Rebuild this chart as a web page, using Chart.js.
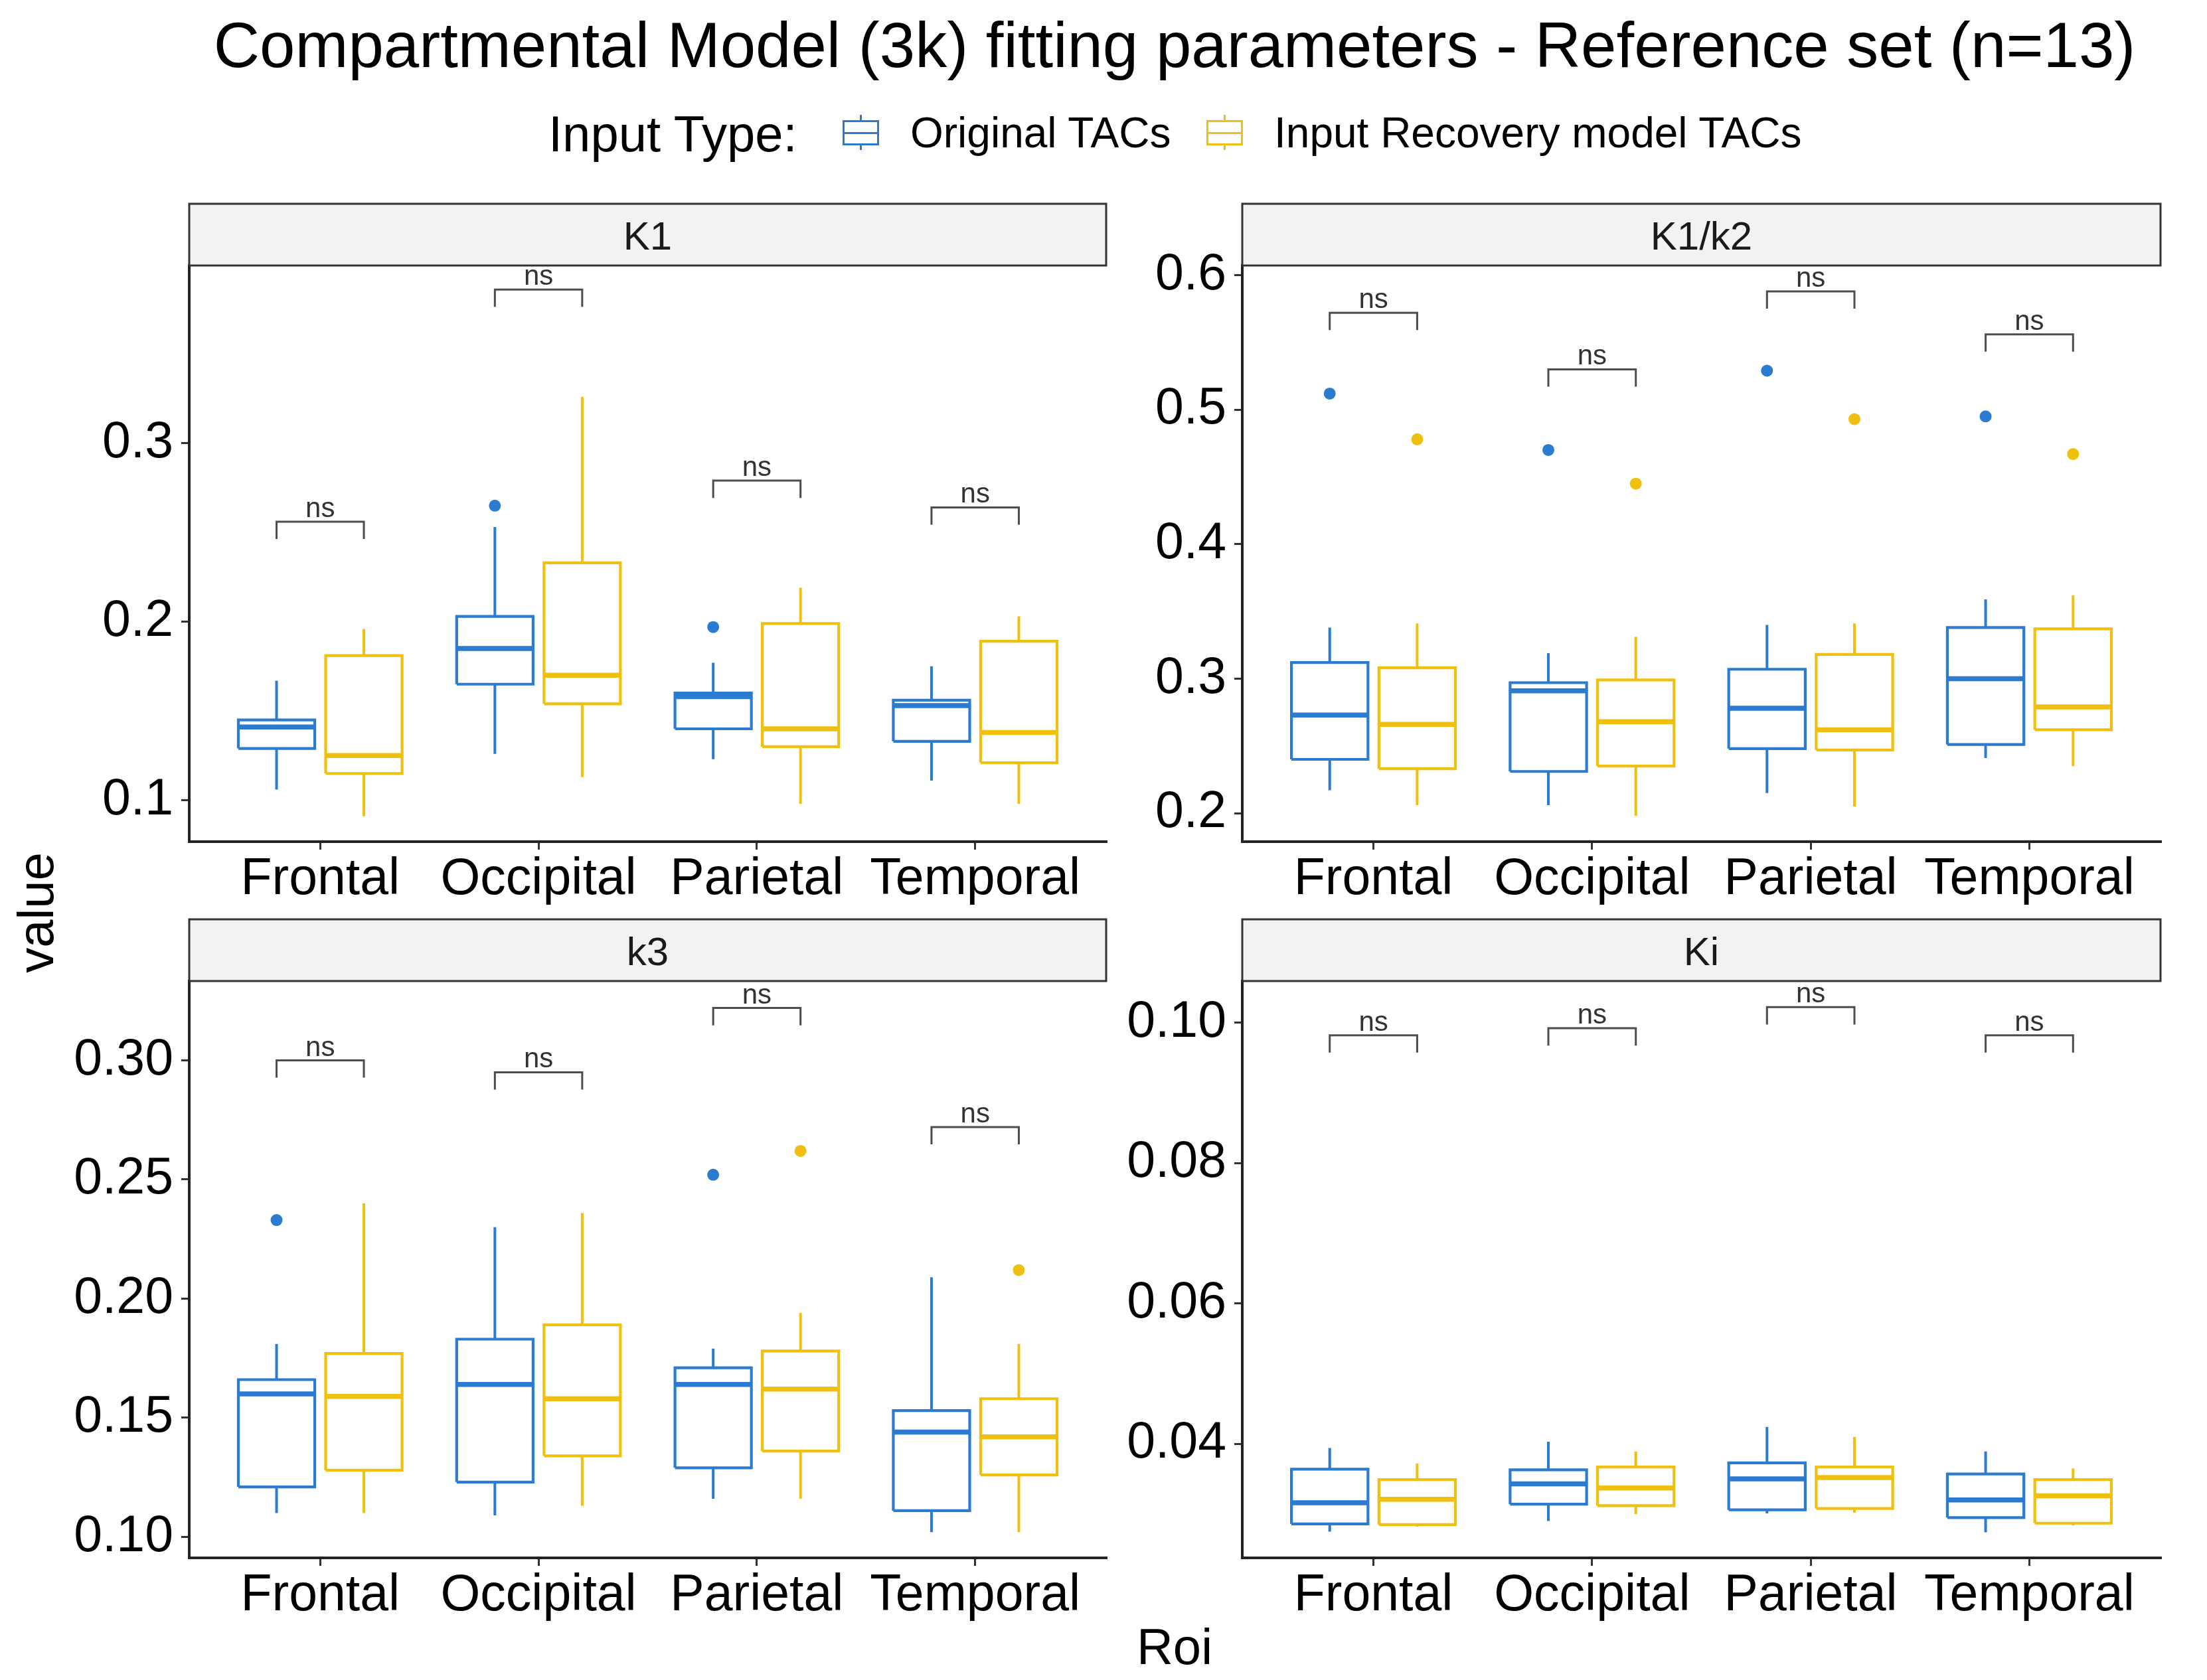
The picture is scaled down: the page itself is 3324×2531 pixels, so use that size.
<!DOCTYPE html>
<html>
<head>
<meta charset="utf-8">
<title>Compartmental Model (3k) fitting parameters</title>
<script src="https://cdn.jsdelivr.net/npm/chart.js@4.4.1/dist/chart.umd.min.js"></script>
<style>
    html, body { margin: 0; padding: 0; background: #fff; }
    body {
        width: 3324px; height: 2531px; position: relative; overflow: hidden;
        font-family: "Liberation Sans", Arial, sans-serif; color: #000;
    }
    .txt { position: absolute; white-space: nowrap; line-height: 1; }
    canvas { position: absolute; }
    .key { position: absolute; width: 55px; height: 53px; }
    .key::before {
        content: ''; position: absolute; left: 26px; top: 0; width: 3px; height: 53px; background: var(--c);
    }
    .key .bx {
        position: absolute; left: 0; top: 8px; width: 49px; height: 32px;
        border: 3px solid var(--c); background: #fff;
    }
    .key .bx::after {
        content: ''; position: absolute; left: 0; right: 0; top: 15px; height: 3px; background: var(--c);
    }
</style>
</head>
<body>

<div class="txt" style="left:1769px; top:20px; font-size:96px; transform:translateX(-50%);">Compartmental Model (3k) fitting parameters - Reference set (n=13)</div>

<div class="txt" style="left:826px; top:164px; font-size:76px;">Input Type:</div>
<div class="key" style="left:1269px; top:173px; --c:#2B7BD1;"><div class="bx"></div></div>
<div class="txt" style="left:1371px; top:168px; font-size:64px;">Original TACs</div>
<div class="key" style="left:1817px; top:173px; --c:#F0C010;"><div class="bx"></div></div>
<div class="txt" style="left:1919px; top:168px; font-size:64px;">Input Recovery model TACs</div>

<div class="txt" style="left:54px; top:1375px; font-size:76px; transform:translate(-50%,-50%) rotate(-90deg);">value</div>
<div class="txt" style="left:1769px; top:2443px; font-size:76px; transform:translateX(-50%);">Roi</div>

<canvas id="k1" width="1680" height="1078" style="left:0px; top:300px;"></canvas>
<canvas id="k12" width="1644" height="1078" style="left:1680px; top:300px;"></canvas>
<canvas id="k3" width="1680" height="1077" style="left:0px; top:1380px;"></canvas>
<canvas id="ki" width="1644" height="1077" style="left:1680px; top:1380px;"></canvas>

<script>
// Regions (x categories) and the two input types
const categories = ['Frontal', 'Occipital', 'Parietal', 'Temporal'];
const seriesLabels = ['Original TACs', 'Input Recovery model TACs'];

// box summaries per region: [lower whisker, Q1, median, Q3, upper whisker]
const k1Original = [
    [0.106, 0.129, 0.141, 0.145, 0.167],
    [0.126, 0.165, 0.185, 0.203, 0.253],
    [0.123, 0.140, 0.158, 0.160, 0.177],
    [0.111, 0.133, 0.153, 0.156, 0.175]
];
const k1Recovery = [
    [0.091, 0.115, 0.125, 0.181, 0.196],
    [0.113, 0.154, 0.170, 0.233, 0.326],
    [0.098, 0.130, 0.140, 0.199, 0.219],
    [0.098, 0.121, 0.138, 0.189, 0.203]
];
const k1OriginalOutliers = [[], [0.265], [0.197], []];
const k1RecoveryOutliers = [[], [], [], []];
const k1Brackets = [0.256, 0.386, 0.279, 0.264];
const k1Ticks = [0.1, 0.2, 0.3];

const k12Original = [
    [0.217, 0.240, 0.273, 0.312, 0.338],
    [0.206, 0.231, 0.291, 0.297, 0.319],
    [0.215, 0.248, 0.278, 0.307, 0.340],
    [0.241, 0.251, 0.300, 0.338, 0.359]
];
const k12Recovery = [
    [0.206, 0.233, 0.266, 0.308, 0.341],
    [0.198, 0.235, 0.268, 0.299, 0.331],
    [0.205, 0.247, 0.262, 0.318, 0.341],
    [0.235, 0.262, 0.279, 0.337, 0.362]
];
const k12OriginalOutliers = [[0.512], [0.470], [0.529], [0.495]];
const k12RecoveryOutliers = [[0.478], [0.445], [0.493], [0.467]];
const k12Brackets = [0.572, 0.530, 0.588, 0.556];
const k12Ticks = [0.2, 0.3, 0.4, 0.5, 0.6];

const k3Original = [
    [0.110, 0.121, 0.160, 0.166, 0.181],
    [0.109, 0.123, 0.164, 0.183, 0.230],
    [0.116, 0.129, 0.164, 0.171, 0.179],
    [0.102, 0.111, 0.144, 0.153, 0.209]
];
const k3Recovery = [
    [0.110, 0.128, 0.159, 0.177, 0.240],
    [0.113, 0.134, 0.158, 0.189, 0.236],
    [0.116, 0.136, 0.162, 0.178, 0.194],
    [0.102, 0.126, 0.142, 0.158, 0.181]
];
const k3OriginalOutliers = [[0.233], [], [0.252], []];
const k3RecoveryOutliers = [[], [], [0.262], [0.212]];
const k3Brackets = [0.300, 0.295, 0.322, 0.272];
const k3Ticks = [0.10, 0.15, 0.20, 0.25, 0.30];

const kiOriginal = [
    [0.0275, 0.0286, 0.0316, 0.0364, 0.0394],
    [0.0290, 0.0314, 0.0343, 0.0363, 0.0403],
    [0.0301, 0.0306, 0.0350, 0.0373, 0.0424],
    [0.0274, 0.0295, 0.0320, 0.0357, 0.0389]
];
const kiRecovery = [
    [0.0282, 0.0285, 0.0321, 0.0349, 0.0372],
    [0.0300, 0.0312, 0.0337, 0.0367, 0.0389],
    [0.0302, 0.0308, 0.0352, 0.0367, 0.0410],
    [0.0284, 0.0287, 0.0326, 0.0349, 0.0365]
];
const kiOriginalOutliers = [[], [], [], []];
const kiRecoveryOutliers = [[], [], [], []];
const kiBrackets = [0.0982, 0.0992, 0.1022, 0.0982];
const kiTicks = [0.04, 0.06, 0.08, 0.10];

const BLUE = '#2B7BD1';
const YELLOW = '#F0C010';
const FONT = '"Liberation Sans", Arial, sans-serif';
const BOX_W = 0.35;   // box width in category units
const DODGE = 0.2;    // offset of each box from the category centre

Chart.defaults.font.family = FONT;

function boxDatasets(stats, outliers, color, offset, label) {
    const box = [], whisk = [], med = [], out = [];
    stats.forEach((s, i) => {
        const x = i + offset, l = x - BOX_W / 2, r = x + BOX_W / 2;
        const [lo, q1, m, q3, hi] = s;
        whisk.push({x: x, y: q3}, {x: x, y: hi}, {x: x, y: null},
                   {x: x, y: q1}, {x: x, y: lo}, {x: x, y: null});
        box.push({x: l, y: q1}, {x: r, y: q1}, {x: r, y: q3}, {x: l, y: q3}, {x: l, y: q1}, {x: l, y: null});
        med.push({x: l, y: m}, {x: r, y: m}, {x: r, y: null});
        outliers[i].forEach(v => out.push({x: x, y: v}));
    });
    const line = {showLine: true, pointRadius: 0, spanGaps: false, fill: false,
                  borderColor: color, borderCapStyle: 'butt', borderJoinStyle: 'miter'};
    return [
        Object.assign({label: label + ' whiskers', data: whisk, borderWidth: 4}, line),
        Object.assign({label: label + ' box', data: box, borderWidth: 4.2}, line),
        Object.assign({label: label + ' median', data: med, borderWidth: 7.5}, line),
        {label: label + ' outliers', data: out, showLine: false, pointRadius: 9,
         pointBackgroundColor: color, pointBorderWidth: 0}
    ];
}

function bracketDataset(brackets, tip) {
    const pts = [];
    brackets.forEach((b, i) => {
        pts.push({x: i - DODGE, y: b - tip}, {x: i - DODGE, y: b},
                 {x: i + DODGE, y: b}, {x: i + DODGE, y: b - tip}, {x: i, y: null});
    });
    return {label: 'brackets', data: pts, showLine: true, pointRadius: 0, spanGaps: false,
            borderColor: '#4D4D4D', borderWidth: 3, fill: false, borderJoinStyle: 'miter'};
}

// grey facet strip above the plot area
const stripPlugin = {
    id: 'strip',
    afterDraw(chart, args, opts) {
        const {ctx, chartArea: a} = chart;
        const h = opts.height;
        ctx.save();
        ctx.fillStyle = '#F2F2F2';
        ctx.fillRect(a.left, a.top - h, a.right - a.left, h);
        ctx.strokeStyle = '#333333';
        ctx.lineWidth = 3;
        ctx.strokeRect(a.left, a.top - h, a.right - a.left, h);
        ctx.fillStyle = '#1A1A1A';
        ctx.font = '60px ' + FONT;
        ctx.textAlign = 'center';
        ctx.textBaseline = 'alphabetic';
        ctx.fillText(opts.text, (a.left + a.right) / 2, a.top - h / 2 + 22);
        ctx.restore();
    }
};

// "ns" labels over the comparison brackets
const nsPlugin = {
    id: 'nsLabels',
    afterDatasetsDraw(chart, args, opts) {
        const {ctx, scales} = chart;
        ctx.save();
        ctx.fillStyle = '#333333';
        ctx.font = '42px ' + FONT;
        ctx.textAlign = 'center';
        ctx.textBaseline = 'alphabetic';
        opts.brackets.forEach((b, i) => {
            ctx.fillText('ns', scales.x.getPixelForValue(i), scales.y.getPixelForValue(b) - 7);
        });
        ctx.restore();
    }
};

function makePanel(id, title, orig, rec, origOut, recOut, brackets, ticks, yMin, yMax, decimals, yAxisWidth, padTop, padRight) {
    const tip = 0.03 * (yMax - yMin);
    const datasets = [
        bracketDataset(brackets, tip),
        ...boxDatasets(orig, origOut, BLUE, -DODGE, seriesLabels[0]),
        ...boxDatasets(rec, recOut, YELLOW, DODGE, seriesLabels[1])
    ];
    const axisGrid = {drawOnChartArea: false, drawTicks: true, tickLength: 12, color: '#333333', lineWidth: 3};
    const axisBorder = {display: true, color: '#222222', width: 4};
    new Chart(document.getElementById(id), {
        type: 'scatter',
        data: {datasets: datasets},
        plugins: [stripPlugin, nsPlugin],
        options: {
            responsive: false,
            animation: false,
            devicePixelRatio: 1,
            events: [],
            layout: {padding: {top: padTop, right: padRight, left: 0, bottom: 0}},
            plugins: {
                legend: {display: false},
                tooltip: {enabled: false},
                strip: {text: title, height: 93},
                nsLabels: {brackets: brackets}
            },
            scales: {
                x: {
                    type: 'linear', min: -0.6, max: 3.6, bounds: 'data',
                    afterBuildTicks: ax => { ax.ticks = categories.map((c, i) => ({value: i})); },
                    afterFit: ax => { ax.height = 110; },
                    ticks: {
                        callback: v => categories[v],
                        font: {size: 77}, color: '#000', padding: 0,
                        maxRotation: 0, autoSkip: false
                    },
                    grid: axisGrid,
                    border: axisBorder
                },
                y: {
                    type: 'linear', min: yMin, max: yMax, bounds: 'data',
                    afterBuildTicks: ax => { ax.ticks = ticks.map(v => ({value: v})); },
                    afterFit: ax => { ax.width = yAxisWidth; },
                    ticks: {
                        callback: v => v.toFixed(decimals),
                        font: {size: 77}, color: '#000', padding: 12
                    },
                    grid: axisGrid,
                    border: axisBorder
                }
            }
        }
    });
}

makePanel('k1', 'K1', k1Original, k1Recovery, k1OriginalOutliers, k1RecoveryOutliers,
          k1Brackets, k1Ticks, 0.0768, 0.3995, 1, 285, 100, 14);
makePanel('k12', 'K1/k2', k12Original, k12Recovery, k12OriginalOutliers, k12RecoveryOutliers,
          k12Brackets, k12Ticks, 0.1788, 0.6072, 1, 191, 100, 70);
makePanel('k3', 'k3', k3Original, k3Recovery, k3OriginalOutliers, k3RecoveryOutliers,
          k3Brackets, k3Ticks, 0.0912, 0.3333, 2, 285, 98, 14);
makePanel('ki', 'Ki', kiOriginal, kiRecovery, kiOriginalOutliers, kiRecoveryOutliers,
          kiBrackets, kiTicks, 0.02376, 0.10592, 2, 191, 98, 70);
</script>
</body>
</html>
